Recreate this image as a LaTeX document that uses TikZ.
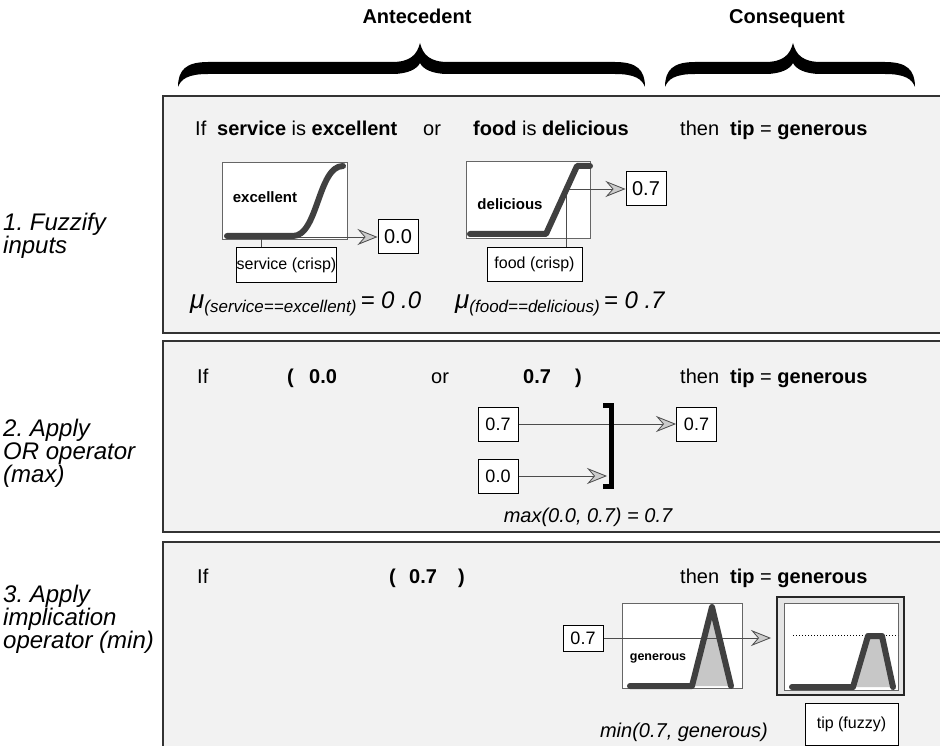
\documentclass[tikz,border=0pt]{standalone}
\usepackage{fontspec}
\setmainfont{Liberation Sans}
\usetikzlibrary{arrows.meta}
\frenchspacing

\newcommand{\bigbrace}[3]{%
  \fill (#1,87) .. controls (#1,70) and (#1+8,62) .. (#1+30,62) -- (#2-28,62)
    .. controls (#2-10,62) and (#2-3,55) .. (#2,43)
    .. controls (#2+3,55) and (#2+10,62) .. (#2+28,62) -- (#3-30,62)
    .. controls (#3-8,62) and (#3,70) .. (#3,87)
    .. controls (#3-3,79) and (#3-10,74) .. (#3-30,74) -- (#2+28,74)
    .. controls (#2+12,74) and (#2+3,69) .. (#2,63)
    .. controls (#2-3,69) and (#2-12,74) .. (#2-28,74) -- (#1+30,74)
    .. controls (#1+10,74) and (#1+3,79) .. (#1,87) -- cycle;}

\tikzset{
  head/.style={anchor=base, inner sep=0, font=\fontsize{20}{24}\selectfont\bfseries},
  panel/.style={draw=black!80, line width=2pt, fill=black!5},
  steplabel/.style={anchor=base west, align=left, inner sep=0, font=\fontsize{24}{23}\selectfont\itshape},
  ruletext/.style={anchor=base west, inner sep=0, font=\fontsize{20}{24}\selectfont},
  formula/.style={anchor=base, inner sep=0, font=\fontsize{20}{24}\selectfont\itshape},
  mfbox/.style={draw=black!60, line width=1pt, fill=white},
  mfline/.style={draw=black!75, line width=6pt, line cap=round, line join=round},
  mfshade/.style={fill=black!22},
  mflabel/.style={inner sep=0, font=\fontsize{15}{18}\selectfont\bfseries},
  valbox/.style={draw, fill=white, line width=1pt, inner sep=0, minimum width=40pt, minimum height=34pt, font=\fontsize{20}{24}\selectfont},
  smallbox/.style={valbox, font=\fontsize{18}{22}\selectfont},
  crispbox/.style={draw, fill=white, line width=1pt, inner sep=0, minimum width=95pt, minimum height=34pt, font=\fontsize{16}{20}\selectfont},
  thinline/.style={draw=black!70, line width=0.8pt},
  flow/.style={thinline, -{Stealth[length=20pt, width=16pt, inset=7pt, fill=black!20]}}
}

\begin{document}
\begin{tikzpicture}[x=1pt, y=-1pt]
\useasboundingbox (0,0) rectangle (940,746);
\clip (0,0) rectangle (940,746);

% headings and braces
\node[head] (ante) at (417,24) {Antecedent};
\node[head] (cons) at (787,24) {Consequent};
\bigbrace{178}{420}{645}
\bigbrace{665}{793}{915}

% the three panels
\draw[panel] (163,96) rectangle (980,333);
\draw[panel] (163,341) rectangle (980,532);
\draw[panel] (163,542) rectangle (980,790);

\node[steplabel] (step1) at (3,254) {1. Fuzzify\\inputs};
\node[steplabel] (step2) at (3,482) {2. Apply\\OR operator\\(max)};
\node[steplabel] (step3) at (3,648) {3. Apply\\implication\\operator (min)};

% 1. fuzzify inputs
\node[ruletext] (if1) at (195,136) {If};
\node[ruletext] (svc) at (217,136) {\textbf{service} is \textbf{excellent}};
\node[ruletext] (or1) at (423,136) {or};
\node[ruletext] (food) at (473,136) {\textbf{food} is \textbf{delicious}};
\node[ruletext] (then1) at (680,136) {then\ \ \textbf{tip} = \textbf{generous}};

\draw[mfbox] (222,163) rectangle (347,240);
\node[mflabel] (exclab) at (265,197) {excellent};
\node[valbox] (exc0) at (398,237) {0.0};
\node[crispbox] (svcin) at (286.5,265) {service (crisp)};
\coordinate (svcpt) at (261,237);
\draw[thinline] (svcin.north -| svcpt) -- (svcpt);
\draw[flow] (svcpt) -- (exc0.west);
\draw[mfline] (227,236) -- (293,236) .. controls (318,236) and (318,166) .. (343,166);

\draw[mfbox] (466,162) rectangle (590,239);
\node[mflabel] (dellab) at (510,204) {delicious};
\node[valbox] (del7) at (646,189) {0.7};
\node[crispbox] (foodin) at (534.5,264.5) {food (crisp)};
\coordinate (foodpt) at (566,189);
\draw[thinline] (foodin.north -| foodpt) -- (foodpt);
\draw[flow] (foodpt) -- (del7.west);
\draw[mfline] (470,234) -- (546,234) -- (577,166) -- (590,166);

\node[ruletext] (muexc) at (190,308) {{\fontsize{26}{26}\selectfont\itshape μ}\raisebox{-4pt}{\fontsize{17}{17}\selectfont\itshape (service==excellent)}{\fontsize{24}{24}\selectfont\itshape\,= 0 .0}};
\node[ruletext] (mufood) at (455,308) {{\fontsize{26}{26}\selectfont\itshape μ}\raisebox{-4pt}{\fontsize{17}{17}\selectfont\itshape (food==delicious)}{\fontsize{24}{24}\selectfont\itshape\,= 0 .7}};

% 2. apply OR operator
\node[ruletext] (if2) at (197,383) {If};
\node[ruletext] (lp2) at (287,383) {\textbf{(}};
\node[ruletext] (a2) at (309,383) {\textbf{0.0}};
\node[ruletext] (or2) at (431,383) {or};
\node[ruletext] (b2) at (523,383) {\textbf{0.7}};
\node[ruletext] (rp2) at (575,383) {\textbf{)}};
\node[ruletext] (then2) at (680,383) {then\ \ \textbf{tip} = \textbf{generous}};

\node[smallbox] (in07) at (498,424) {0.7};
\node[smallbox] (in00) at (498,476) {0.0};
\node[smallbox] (out07) at (696.5,424) {0.7};
\coordinate (barin) at (607,476);
\draw[flow] (in07.east) -- (out07.west);
\draw[flow] (in00.east) -- (barin);
\draw[line width=5pt] (603,405) -- (611,405) -- (611,486) -- (603,486);
\node[formula] (maxres) at (588,522) {max(0.0, 0.7) = 0.7};

% 3. apply implication operator
\node[ruletext] (if3) at (197,583) {If};
\node[ruletext] (lp3) at (389,583) {\textbf{(}};
\node[ruletext] (a3) at (409,583) {\textbf{0.7}};
\node[ruletext] (rp3) at (458,583) {\textbf{)}};
\node[ruletext] (then3) at (680,583) {then\ \ \textbf{tip} = \textbf{generous}};

\node[smallbox, minimum height=26pt] (imp07) at (583,638) {0.7};
\draw[mfbox] (622,603) rectangle (742,688);
\fill[mfshade] (692,686) -- (712,607) -- (731,686) -- cycle;
\node[mflabel, font=\fontsize{12.5}{15}\selectfont\bfseries] (genlab) at (658,658) {generous};
\coordinate (impout) at (771,638);
\draw[flow] (imp07.east) -- (impout);
\draw[mfline] (630,686) -- (692,686) -- (712,607) -- (731,686);

\draw[draw=black!85, line width=1.5pt, fill=black!10] (777,597) rectangle (904,695);
\draw[mfbox] (784,603) rectangle (898,690);
\draw[dotted, line width=1pt] (793,635) -- (898,635);
\fill[mfshade] (853,687) -- (868,636) -- (882,636) -- (893,687) -- cycle;
\draw[mfline] (792,687) -- (853,687) -- (868,636) -- (882,636) -- (893,687);
\node[crispbox, minimum width=93pt, minimum height=42pt] (tipout) at (851.5,724) {tip (fuzzy)};
\node[formula] (minres) at (684,737) {min(0.7, generous)};
\end{tikzpicture}
\end{document}
